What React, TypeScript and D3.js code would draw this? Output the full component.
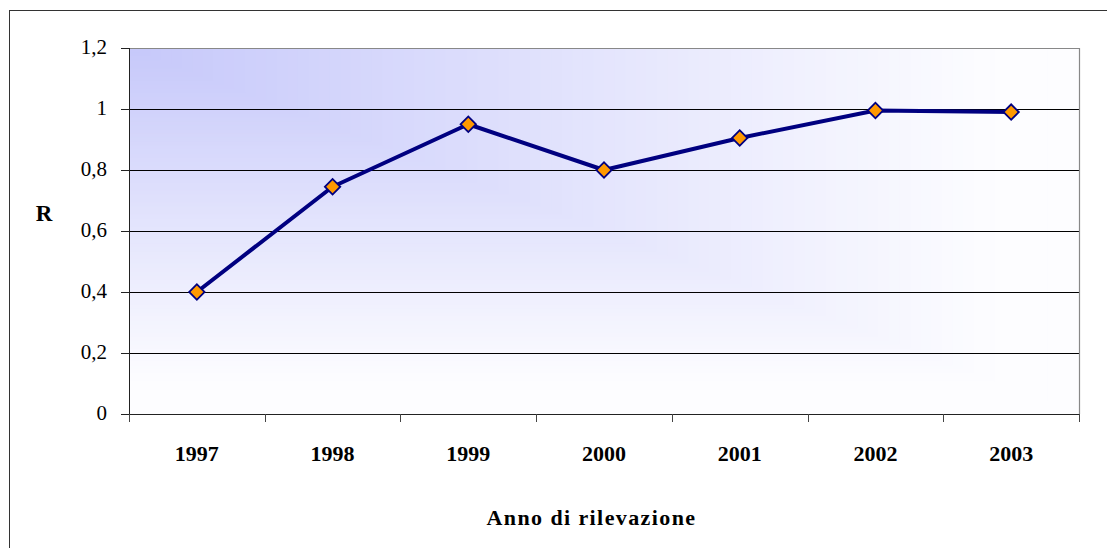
import React from "react";
import * as d3 from "d3";

const categories = ["1997", "1998", "1999", "2000", "2001", "2002", "2003"];
const values = [0.4, 0.745, 0.95, 0.8, 0.905, 0.995, 0.99];
const yTicks = [0, 0.2, 0.4, 0.6, 0.8, 1, 1.2];
const yTickLabels = ["0", "0,2", "0,4", "0,6", "0,8", "1", "1,2"];
const yTitle = "R";
const xTitle = "Anno di rilevazione";

const W = 1107;
const H = 548;
const left = 129;
const right = 1079;
const top = 48;
const bottom = 414;
const FONT = "'Palatino Linotype', 'Book Antiqua', Palatino, 'Liberation Serif', serif";

export default function App() {
  const x = d3.scaleBand<string>().domain(categories).range([left, right]);
  const y = d3.scaleLinear().domain([0, 1.2]).range([bottom, top]);
  const line = d3
    .line<number>()
    .x((_, i) => (x(categories[i]) as number) + x.bandwidth() / 2)
    .y((d) => y(d));
  const diamond = d3.symbol().type(d3.symbolSquare).size(118)() as string;

  const pw = right - left;
  const ph = bottom - top;
  const steps = d3.range(90, 0, -1).map((k) => k / 90);
  const col = d3.interpolateRgb("#c6c8fa", "#fdfdff");
  const boundaries = categories.map((c) => x(c) as number).concat([right]);

  return (
    <svg
      width={W}
      height={H}
      style={{ position: "absolute", left: 0, top: 0, fontFamily: FONT }}
    >
      <rect x={0} y={0} width={W} height={H} fill="#fff" />
      <rect x={9.5} y={10.5} width={1300} height={700} fill="none" stroke="#333" strokeWidth={1} />
      {/* plot background: from-corner gradient */}
      {steps.map((t, i) => (
        <rect key={i} x={left} y={top} width={pw * t} height={ph * t} fill={col(Math.min(1, t / 0.92))} />
      ))}
      {/* gridlines */}
      {yTicks.slice(1, -1).map((v) => (
        <line key={v} x1={left} x2={right} y1={Math.round(y(v)) + 0.5} y2={Math.round(y(v)) + 0.5} stroke="#000" />
      ))}
      {/* plot border top/right */}
      <path d={`M${left},${top + 0.5}H${right + 0.5}V${bottom}`} fill="none" stroke="#888" strokeWidth={1.2} />
      {/* y axis */}
      <line x1={left + 0.5} x2={left + 0.5} y1={top} y2={bottom + 8} stroke="#222" />
      {yTicks.map((v, i) => (
        <g key={v}>
          <line x1={left - 8} x2={left} y1={Math.round(y(v)) + 0.5} y2={Math.round(y(v)) + 0.5} stroke="#222" />
          <text x={107} y={y(v) + 6} textAnchor="end" fontSize={21} fill="#000">
            {yTickLabels[i]}
          </text>
        </g>
      ))}
      {/* x axis */}
      <line x1={left - 8} x2={right + 0.5} y1={bottom + 0.5} y2={bottom + 0.5} stroke="#222" />
      {boundaries.map((b, i) => (
        <line key={i} x1={Math.round(b) + 0.5} x2={Math.round(b) + 0.5} y1={bottom} y2={bottom + 8} stroke="#444" />
      ))}
      {categories.map((c) => (
        <text
          key={c}
          x={(x(c) as number) + x.bandwidth() / 2}
          y={461}
          textAnchor="middle"
          fontSize={22}
          fontWeight="bold"
          fill="#000"
        >
          {c}
        </text>
      ))}
      {/* series */}
      <path d={line(values) as string} fill="none" stroke="#000080" strokeWidth={4} strokeLinejoin="round" />
      {values.map((v, i) => (
        <path
          key={i}
          d={diamond}
          transform={`translate(${(x(categories[i]) as number) + x.bandwidth() / 2},${y(v)}) rotate(45)`}
          fill="#ff9900"
          stroke="#000080"
          strokeWidth={1.8}
        />
      ))}
      {/* titles */}
      <text x={44} y={221} textAnchor="middle" fontSize={23} fontWeight="bold" fill="#000">
        {yTitle}
      </text>
      <text x={591.5} y={525} textAnchor="middle" fontSize={22} fontWeight="bold" letterSpacing={1.4} fill="#000">
        {xTitle}
      </text>
    </svg>
  );
}
